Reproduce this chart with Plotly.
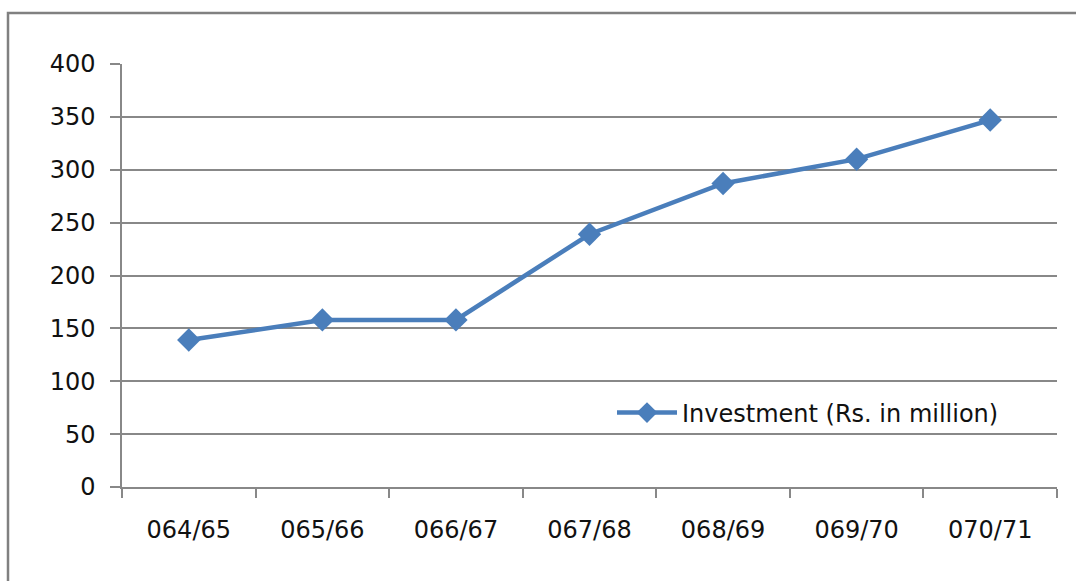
import plotly.graph_objects as go

categories = ["064/65", "065/66", "066/67", "067/68", "068/69", "069/70", "070/71"]
investment = [139, 158, 158, 239, 287, 310, 347]
y_ticks = [0, 50, 100, 150, 200, 250, 300, 350, 400]
series_name = "Investment (Rs. in million)"

W, H = 1076, 581
L, R, T, B = 122, 19, 64, 94
pw, ph = W - L - R, H - T - B

fig = go.Figure()
fig.add_trace(go.Scatter(
    x=categories, y=investment, mode="lines+markers", name=series_name,
    line=dict(color="#4A7EBB", width=4.5),
    marker=dict(symbol="diamond", size=18, color="#4A7EBB"),
))

fig.update_layout(
    width=W, height=H,
    margin=dict(l=L, r=R, t=T, b=B),
    paper_bgcolor="white", plot_bgcolor="white",
    font=dict(family="DejaVu Sans", size=24, color="#111111"),
    showlegend=True,
    legend=dict(x=(612 - L) / pw, y=(487 - 413) / ph, xanchor="left", yanchor="middle",
                bgcolor="rgba(0,0,0,0)", font=dict(size=24), itemwidth=60),
    xaxis=dict(type="category", range=[-0.5, 6.5], tickson="boundaries",
               ticks="outside", ticklen=9, tickcolor="#888888", tickwidth=1.5,
               showline=True, linecolor="#888888", linewidth=1.5,
               showgrid=False, ticklabelstandoff=20),
    yaxis=dict(range=[0, 400], tickvals=y_ticks, ticks="outside", ticklen=10,
               tickcolor="#888888", tickwidth=1.5, showline=True, linecolor="#888888",
               linewidth=1.5, showgrid=True, gridcolor="#888888", gridwidth=1.5,
               zeroline=False, ticklabelstandoff=10),
    shapes=[dict(type="rect", xref="paper", yref="paper",
                 x0=(8 - L) / pw, x1=1.2, y0=-0.5, y1=(487 - 13) / ph,
                 line=dict(color="#808080", width=2.5), fillcolor="rgba(0,0,0,0)",
                 layer="below")],
)

fig.write_html("out.html", config={"displayModeBar": False},
               post_script="document.body.style.margin='0';document.body.style.overflow='hidden';")
